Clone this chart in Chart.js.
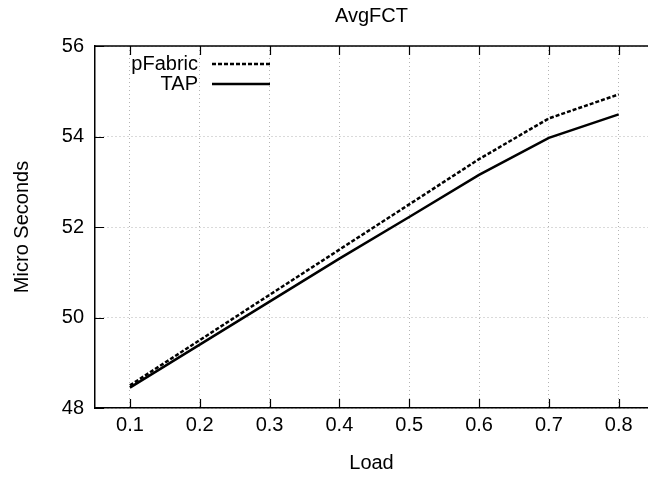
<!DOCTYPE html>
<html>
<head>
<meta charset="utf-8">
<script src="https://cdn.jsdelivr.net/npm/chart.js@4/dist/chart.umd.min.js"></script>
<style>
  html, body { margin: 0; padding: 0; background: #fff; }
  #wrap { width: 648px; height: 479px; }
</style>
</head>
<body>
<div id="wrap"><canvas id="chartFct"></canvas></div>
<script>
const loads = [0.1, 0.2, 0.3, 0.4, 0.5, 0.6, 0.7, 0.8];
const pfabric = [48.5, 49.5, 50.5, 51.5, 52.5, 53.5, 54.4, 54.93];
const tap = [48.45, 49.4, 50.35, 51.3, 52.22, 53.15, 53.97, 54.49];
const xTicks = [0.1, 0.2, 0.3, 0.4, 0.5, 0.6, 0.7, 0.8];
const yTicks = [48, 50, 52, 54, 56];
const chartTitle = 'AvgFCT';

const FONT = 'Liberation Sans, Arial, Helvetica, sans-serif';
const FSIZE = 20;

function toPoints(xs, ys) {
    return xs.map((x, i) => ({ x: x, y: ys[i] }));
}

// gnuplot-like frame: top border, inward ticks, title and key
const framePlugin = {
    id: 'frame',
    afterDatasetsDraw(chart) {
        const ctx = chart.ctx;
        const a = chart.chartArea;
        const xs = chart.scales.x, ys = chart.scales.y;
        ctx.save();
        ctx.strokeStyle = '#000';
        ctx.lineWidth = 1.5;
        ctx.beginPath();
        ctx.moveTo(a.left, a.top);
        ctx.lineTo(a.right, a.top);
        ctx.stroke();
        ctx.lineWidth = 1.2;
        ctx.beginPath();
        xTicks.forEach(v => {
            const px = Math.round(xs.getPixelForValue(v)) + 0.5;
            ctx.moveTo(px, a.bottom); ctx.lineTo(px, a.bottom - 9);
            ctx.moveTo(px, a.top); ctx.lineTo(px, a.top + 9);
        });
        yTicks.forEach(v => {
            const py = Math.round(ys.getPixelForValue(v)) + 0.5;
            ctx.moveTo(a.left, py); ctx.lineTo(a.left + 9, py);
        });
        ctx.stroke();

        // title
        ctx.fillStyle = '#000';
        ctx.font = FSIZE + 'px ' + FONT;
        ctx.textAlign = 'center';
        ctx.textBaseline = 'middle';
        ctx.fillText(chartTitle, (a.left + a.right) / 2, 16);

        // key
        ctx.textAlign = 'right';
        chart.data.datasets.forEach((ds, i) => {
            const y = a.top + 18 + i * 20;
            ctx.fillText(ds.label, a.left + 103, y);
            ctx.save();
            ctx.strokeStyle = ds.borderColor;
            ctx.lineWidth = ds.borderWidth;
            ctx.setLineDash(ds.borderDash || []);
            ctx.beginPath();
            ctx.moveTo(a.left + 117, y);
            ctx.lineTo(a.left + 175, y);
            ctx.stroke();
            ctx.restore();
        });
        ctx.restore();
    }
};

new Chart(document.getElementById('chartFct'), {
    type: 'line',
    data: {
        datasets: [
            { label: 'pFabric', data: toPoints(loads, pfabric), borderColor: '#000', borderWidth: 2.5, borderDash: [4, 2], pointRadius: 0, tension: 0, fill: false },
            { label: 'TAP', data: toPoints(loads, tap), borderColor: '#000', borderWidth: 2.5, pointRadius: 0, tension: 0, fill: false }
        ]
    },
    options: {
        responsive: true,
        maintainAspectRatio: false,
        animation: false,
        layout: { padding: { top: 46, right: 0, bottom: 0, left: 0 } },
        plugins: { legend: { display: false }, tooltip: { enabled: false }, title: { display: false } },
        scales: {
            x: {
                type: 'linear',
                min: 0.05,
                max: 0.842,
                afterBuildTicks(scale) { scale.ticks = xTicks.map(v => ({ value: v })); },
                afterFit(scale) { scale.height = 71; },
                grid: { color: '#b4b4b4', lineWidth: 1, drawTicks: false },
                border: { color: '#000', width: 1.5, dash: [1, 3] },
                ticks: { color: '#000', padding: 5, font: { family: FONT, size: FSIZE }, callback: v => v.toFixed(1), maxRotation: 0 },
                title: { display: true, text: 'Load', color: '#000', font: { family: FONT, size: FSIZE }, padding: { top: 0, bottom: 4 } }
            },
            y: {
                min: 48,
                max: 56,
                afterBuildTicks(scale) { scale.ticks = yTicks.map(v => ({ value: v })); },
                afterFit(scale) { scale.width = 95; },
                grid: { color: '#b4b4b4', lineWidth: 1, drawTicks: false },
                border: { color: '#000', width: 1.5, dash: [1, 3] },
                ticks: { color: '#000', padding: 11, font: { family: FONT, size: FSIZE } },
                title: { display: true, text: 'Micro Seconds', color: '#000', font: { family: FONT, size: FSIZE }, padding: { top: 10, bottom: 0 } }
            }
        }
    },
    plugins: [framePlugin]
});
</script>
</body>
</html>
